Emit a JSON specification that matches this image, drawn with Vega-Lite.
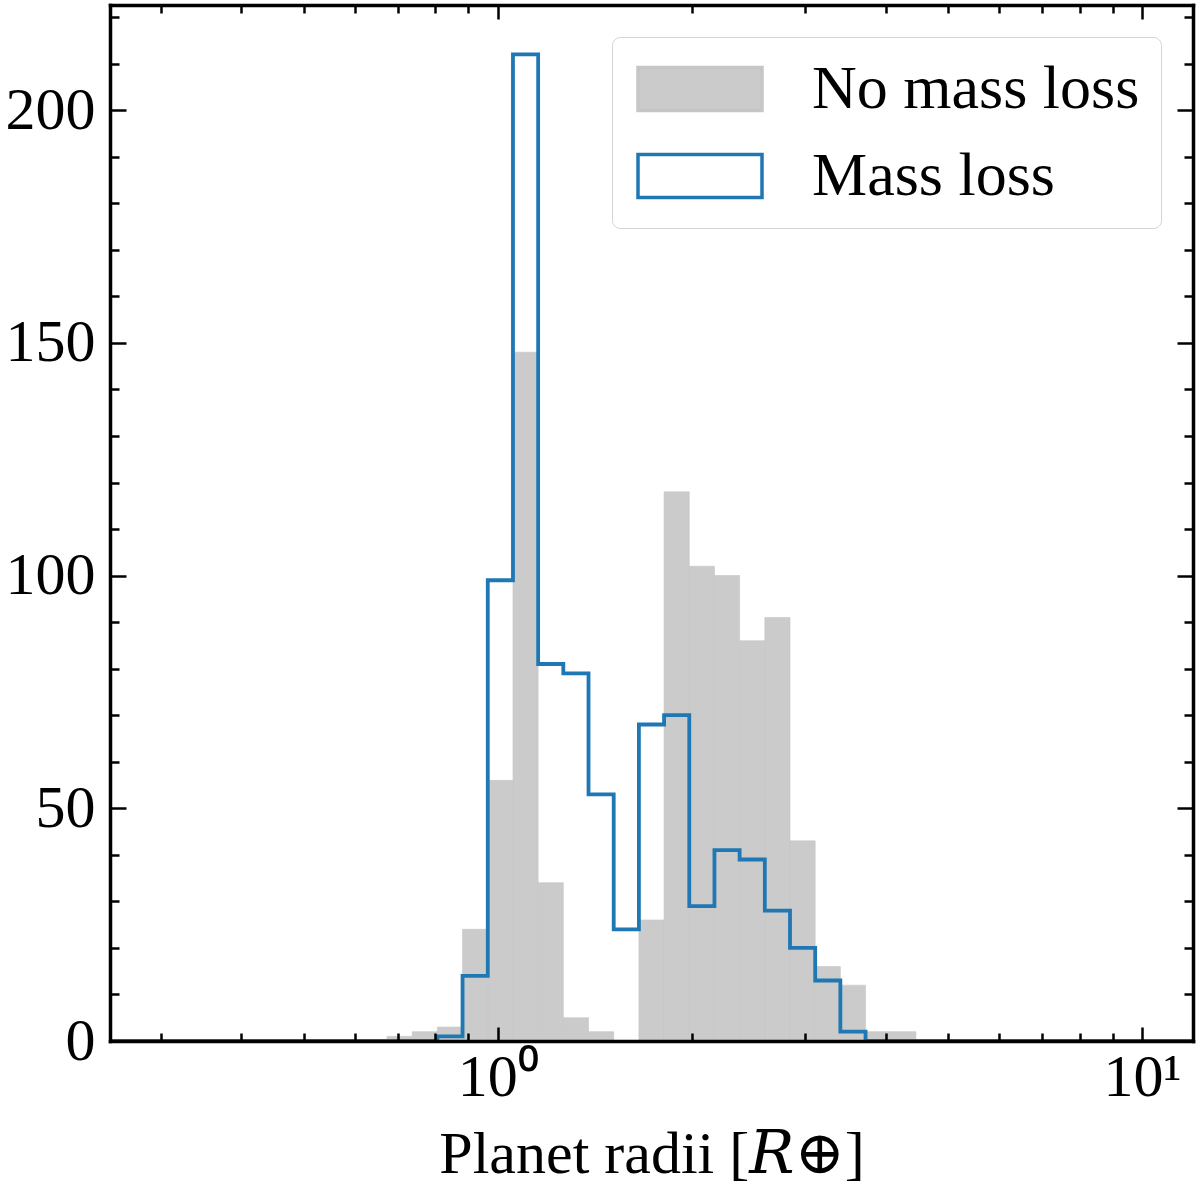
{
  "$schema": "https://vega.github.io/schema/vega-lite/v6.json",
  "width": 1083,
  "height": 1036,
  "autosize": {"type": "none"},
  "padding": {"left": 110, "top": 5, "right": 7, "bottom": 151},
  "datasets": {
    "nomassloss": [
      {"lo": 0.67295, "hi": 0.73634, "count": 1, "series": "No mass loss"},
      {"lo": 0.73634, "hi": 0.80568, "count": 2, "series": "No mass loss"},
      {"lo": 0.80568, "hi": 0.88157, "count": 3, "series": "No mass loss"},
      {"lo": 0.88157, "hi": 0.96475, "count": 24, "series": "No mass loss"},
      {"lo": 0.96475, "hi": 1.05562, "count": 56, "series": "No mass loss"},
      {"lo": 1.05562, "hi": 1.15504, "count": 148, "series": "No mass loss"},
      {"lo": 1.15504, "hi": 1.26377, "count": 34, "series": "No mass loss"},
      {"lo": 1.26377, "hi": 1.38284, "count": 5, "series": "No mass loss"},
      {"lo": 1.38284, "hi": 1.51318, "count": 2, "series": "No mass loss"},
      {"lo": 1.65577, "hi": 1.81173, "count": 26, "series": "No mass loss"},
      {"lo": 1.81173, "hi": 1.98243, "count": 118, "series": "No mass loss"},
      {"lo": 1.98243, "hi": 2.16905, "count": 102, "series": "No mass loss"},
      {"lo": 2.16905, "hi": 2.37336, "count": 100, "series": "No mass loss"},
      {"lo": 2.37336, "hi": 2.59705, "count": 86, "series": "No mass loss"},
      {"lo": 2.59705, "hi": 2.84166, "count": 91, "series": "No mass loss"},
      {"lo": 2.84166, "hi": 3.10946, "count": 43, "series": "No mass loss"},
      {"lo": 3.10946, "hi": 3.40218, "count": 16, "series": "No mass loss"},
      {"lo": 3.40218, "hi": 3.72268, "count": 12, "series": "No mass loss"},
      {"lo": 3.72268, "hi": 4.07349, "count": 2, "series": "No mass loss"},
      {"lo": 4.07349, "hi": 4.45713, "count": 2, "series": "No mass loss"}
    ],
    "massloss": [
      {"edge": 0.25, "count": 0},
      {"edge": 0.80568, "count": 1},
      {"edge": 0.88157, "count": 14},
      {"edge": 0.96475, "count": 99},
      {"edge": 1.05562, "count": 212},
      {"edge": 1.15504, "count": 81},
      {"edge": 1.26377, "count": 79},
      {"edge": 1.38284, "count": 53},
      {"edge": 1.51318, "count": 24},
      {"edge": 1.65577, "count": 68},
      {"edge": 1.81173, "count": 70},
      {"edge": 1.98243, "count": 29},
      {"edge": 2.16905, "count": 41},
      {"edge": 2.37336, "count": 39},
      {"edge": 2.59705, "count": 28},
      {"edge": 2.84166, "count": 20},
      {"edge": 3.10946, "count": 13},
      {"edge": 3.40218, "count": 2},
      {"edge": 3.72268, "count": 0},
      {"edge": 12, "count": 0}
    ]
  },
  "config": {
    "view": {"stroke": null},
    "axis": {
      "grid": false,
      "domainColor": "black",
      "domainWidth": 3.5,
      "domainCap": "square",
      "tickColor": "black",
      "tickWidth": 2.5,
      "labelFont": "Liberation Serif",
      "labelFontSize": 60,
      "labelColor": "black",
      "titleFont": "Liberation Serif, DejaVu Serif",
      "titleFontSize": 60,
      "titleFontWeight": "normal",
      "titleColor": "black",
      "labelOverlap": false,
      "labelFlush": false
    },
    "legend": {
      "title": null,
      "orient": "top-right",
      "offset": 32,
      "symbolType": "M-2.48,-0.86H2.48V0.86H-2.48Z",
      "symbolSize": 2500,
      "symbolOffset": 36,
      "symbolStrokeWidth": 3.5,
      "labelOffset": 81,
      "labelFont": "Liberation Serif",
      "labelFontSize": 62,
      "labelColor": "black",
      "labelLimit": 0,
      "padding": 21,
      "rowPadding": 25,
      "fillColor": "rgba(255,255,255,0.8)",
      "strokeColor": "#d4d4d4",
      "cornerRadius": 8
    }
  },
  "layer": [
    {
      "data": {"name": "nomassloss"},
      "mark": {"type": "bar", "strokeWidth": 0.6},
      "encoding": {
        "x": {
          "field": "lo",
          "type": "quantitative",
          "scale": {"type": "log", "domain": [0.25, 12], "nice": false},
          "axis": {
            "orient": "bottom",
            "zindex": 2,
            "values": [0.3, 0.4, 0.5, 0.6, 0.7, 0.8, 0.9, 1, 2, 3, 4, 5, 6, 7, 8, 9, 10],
            "labelExpr": "datum.value == 1 ? '10⁰' : (datum.value == 10 ? '10¹' : '')",
            "tickSize": {"condition": {"test": "datum.value == 1 || datum.value == 10", "value": -14}, "value": -8},
            "labelPadding": 21,
            "title": "Planet radii [𝑅⊕]",
            "titlePadding": 12
          }
        },
        "x2": {"field": "hi"},
        "y": {
          "field": "count",
          "type": "quantitative",
          "scale": {"domain": [0, 222.6], "nice": false},
          "axis": {
            "orient": "left",
            "zindex": 2,
            "values": [0, 10, 20, 30, 40, 50, 60, 70, 80, 90, 100, 110, 120, 130, 140, 150, 160, 170, 180, 190, 200, 210, 220],
            "labelExpr": "datum.value % 50 == 0 ? format(datum.value, 'd') : ''",
            "tickSize": {"condition": {"test": "datum.value % 50 == 0", "value": -16}, "value": -9},
            "labelPadding": 31,
            "title": null
          }
        },
        "y2": {"datum": 0},
        "fill": {
          "field": "series",
          "type": "nominal",
          "scale": {"domain": ["No mass loss", "Mass loss"], "range": ["#cbcbcb", "white"]}
        },
        "stroke": {
          "field": "series",
          "type": "nominal",
          "scale": {"domain": ["No mass loss", "Mass loss"], "range": ["#c6c6c6", "#1f77b4"]}
        }
      }
    },
    {
      "data": {"name": "massloss"},
      "mark": {"type": "line", "interpolate": "step-after", "color": "#1f77b4", "strokeWidth": 3.8},
      "encoding": {
        "x": {
          "field": "edge",
          "type": "quantitative",
          "axis": {
            "orient": "top",
            "zindex": 2,
            "values": [0.3, 0.4, 0.5, 0.6, 0.7, 0.8, 0.9, 1, 2, 3, 4, 5, 6, 7, 8, 9, 10],
            "labels": false,
            "tickSize": {"condition": {"test": "datum.value == 1 || datum.value == 10", "value": -14}, "value": -8},
            "title": null
          }
        },
        "y": {
          "field": "count",
          "type": "quantitative",
          "axis": {
            "orient": "right",
            "zindex": 2,
            "values": [0, 10, 20, 30, 40, 50, 60, 70, 80, 90, 100, 110, 120, 130, 140, 150, 160, 170, 180, 190, 200, 210, 220],
            "labels": false,
            "tickSize": {"condition": {"test": "datum.value % 50 == 0", "value": -16}, "value": -9},
            "title": null
          }
        }
      }
    }
  ],
  "resolve": {"axis": {"x": "independent", "y": "independent"}}
}
